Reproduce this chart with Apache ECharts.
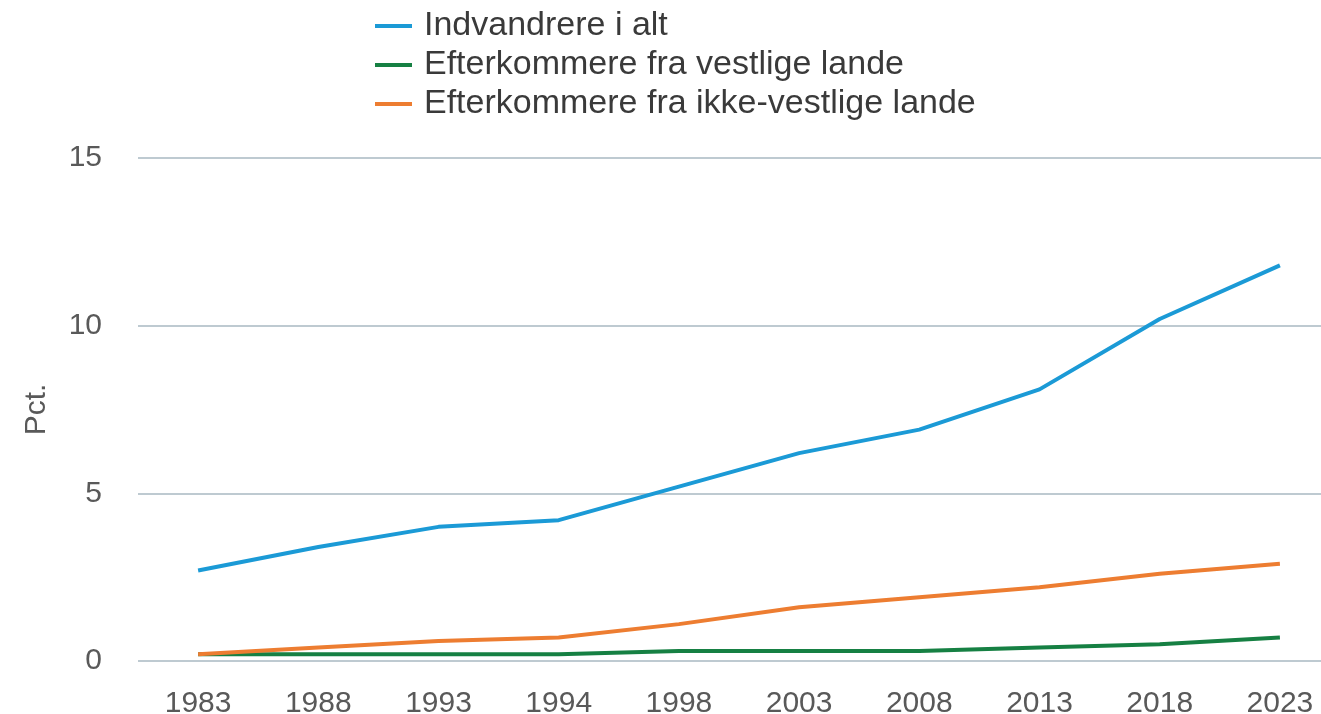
<!DOCTYPE html>
<html>
<head>
<meta charset="utf-8">
<script src="https://cdn.jsdelivr.net/npm/echarts@6/dist/echarts.min.js"></script>
<style>
  html, body { margin: 0; padding: 0; background: #fff; }
  #chart { width: 1321px; height: 714px; }
</style>
</head>
<body>
<div id="chart"></div>
<script>
// år
var years = ['1983', '1988', '1993', '1994', '1998', '2003', '2008', '2013', '2018', '2023'];
// andel af befolkningen, pct.
var indvandrere = [2.7, 3.4, 4.0, 4.2, 5.2, 6.2, 6.9, 8.1, 10.2, 11.8];
var efterVestlige = [0.2, 0.2, 0.2, 0.2, 0.3, 0.3, 0.3, 0.4, 0.5, 0.7];
var efterIkkeVestlige = [0.2, 0.4, 0.6, 0.7, 1.1, 1.6, 1.9, 2.2, 2.6, 2.9];
var yTicks = [0, 5, 10, 15];

var names = ['Indvandrere i alt', 'Efterkommere fra vestlige lande', 'Efterkommere fra ikke-vestlige lande'];
var colors = ['#1b9ad6', '#168043', '#ed7d31'];

var myChart = echarts.init(document.getElementById('chart'));

function line(name, data, color) {
    return {
        name: name,
        type: 'line',
        data: data,
        symbol: 'none',
        lineStyle: { color: color, width: 4 },
        itemStyle: { color: color }
    };
}

myChart.setOption({
    animation: false,
    color: colors,
    textStyle: { fontFamily: 'Liberation Sans, Arial, sans-serif' },
    legend: {
        orient: 'vertical',
        left: 370,
        top: 4,
        itemWidth: 37,
        itemHeight: 4,
        itemGap: 5,
        icon: 'rect',
        textStyle: { fontSize: 34, color: '#3a3a3a', padding: [0, 0, 0, 7] },
        data: names
    },
    grid: {
        left: 138,
        width: 1202,
        top: 158,
        bottom: 53,
        outerBoundsMode: 'none'
    },
    xAxis: {
        type: 'category',
        data: years,
        boundaryGap: true,
        axisLine: { show: false },
        axisTick: { show: false },
        axisLabel: { fontSize: 30, color: '#595959', margin: 28 }
    },
    yAxis: {
        type: 'value',
        min: yTicks[0],
        max: yTicks[yTicks.length - 1],
        interval: 5,
        name: 'Pct.',
        nameLocation: 'middle',
        nameRotate: 90,
        nameGap: 86,
        nameTextStyle: { fontSize: 30, color: '#595959' },
        axisLine: { show: false },
        axisTick: { show: false },
        axisLabel: { fontSize: 30, color: '#595959', margin: 36 },
        splitLine: { lineStyle: { color: '#a9b8c2', width: 1.5 } }
    },
    series: [
        line(names[0], indvandrere, colors[0]),
        line(names[1], efterVestlige, colors[1]),
        line(names[2], efterIkkeVestlige, colors[2])
    ]
});
</script>
</body>
</html>
